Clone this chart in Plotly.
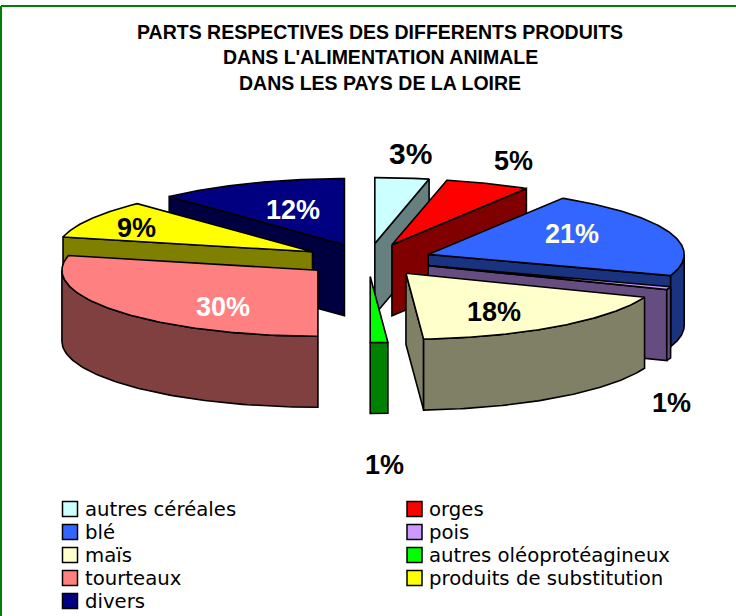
import numpy as np
import plotly.graph_objects as go

# ---- data -------------------------------------------------------------
CATEGORIES = ["autres céréales", "orges", "blé", "pois", "maïs",
              "autres oléoprotéagineux", "tourteaux",
              "produits de substitution", "divers"]
SHARES = [3.4, 5.4, 21.4, 0.7, 18.0, 1.1, 28.6, 9.4, 12.0]
PERCENT_LABELS = ["3%", "5%", "21%", "1%", "18%", "1%", "30%", "9%", "12%"]
TITLE_LINES = ["PARTS RESPECTIVES DES DIFFERENTS PRODUITS",
               "DANS L'ALIMENTATION ANIMALE",
               "DANS LES PAYS DE LA LOIRE"]

# ---- styles / layout ---------------------------------------------------
COLORS = ["#CCFFFF", "#FF0000", "#3366FF", "#CC99FF", "#FFFFCC",
          "#00FF00", "#FF8080", "#FFFF00", "#000080"]
SIDE_COLORS = ["#668080", "#800000", "#1A3380", "#664D80", "#808066",
               "#008000", "#804040", "#808000", "#000040"]
LABEL_COLORS = ["black", "black", "#FFFFE0", "black", "black",
                "black", "white", "black", "white"]
LABEL_X = [410, 513, 572, 671, 494, 384, 223, 136, 293]
LABEL_Y = [153, 161, 234, 403, 312, 465, 307, 228, 210]
LABEL_SIZE = [30, 27, 27, 27, 27, 27, 27, 27, 27]
CX, CY, RX, RY, DEPTH, EXPLODE = 368.0, 260.0, 256.0, 66.0, 71.0, 0.25
DRAW_ORDER = [8, 0, 1, 7, 2, 3, 6, 4, 5]
LEGEND_X = [70, 70, 70, 70, 70, 414.5, 414.5, 414.5, 414.5]
LEGEND_TEXT_X = [85, 85, 85, 85, 85, 429, 429, 429, 429]
LEGEND_ORDER = [0, 2, 4, 6, 8, 1, 3, 5, 7]
LEGEND_Y = [509, 532, 555, 578, 601, 509, 532, 555, 578]
FONT = "Liberation Sans, Arial, sans-serif"
LEGEND_FONT = "DejaVu Sans, Verdana, sans-serif"

total = float(sum(SHARES))
edges = np.concatenate([[0.0], np.cumsum(SHARES)]) / total * 2 * np.pi


def rim(ax, ay, t):
    return ax + RX * np.sin(t), ay - RY * np.cos(t)


fig = go.Figure()


def face(xs, ys, color, name):
    fig.add_trace(go.Scatter(
        x=list(xs), y=list(ys), mode="lines", fill="toself",
        fillcolor=color, line=dict(color="black", width=1.6),
        hoverinfo="skip", showlegend=False, name=name))


for i in DRAW_ORDER:
    t0, t1 = edges[i], edges[i + 1]
    tm = (t0 + t1) / 2
    ax = CX + EXPLODE * RX * np.sin(tm)
    ay = CY - EXPLODE * RY * np.cos(tm)
    name = CATEGORIES[i]
    side = SIDE_COLORS[i]
    # radial walls that face the viewer
    for t, visible in ((t0, np.sin(t0) < -1e-6), (t1, np.sin(t1) > 1e-6)):
        if visible:
            px, py = rim(ax, ay, t)
            face([ax, px, px, ax, ax],
                 [ay, py, py + DEPTH, ay + DEPTH, ay], side, name)
    # outer wall: front half of the ellipse only
    lo, hi = max(t0, np.pi / 2), min(t1, 3 * np.pi / 2)
    if hi > lo:
        t = np.linspace(lo, hi, 80)
        px, py = rim(ax, ay, t)
        face(np.r_[px, px[::-1], px[0]],
             np.r_[py, py[::-1] + DEPTH, py[0]], side, name)
    # top face
    t = np.linspace(t0, t1, 120)
    px, py = rim(ax, ay, t)
    face(np.r_[ax, px, ax], np.r_[ay, py, ay], COLORS[i], name)

annotations = []

# legend, two columns
for row, i in enumerate(LEGEND_ORDER):
    fig.add_trace(go.Scatter(
        x=[LEGEND_X[row]], y=[LEGEND_Y[row]], mode="markers",
        marker=dict(symbol="square", size=15, color=COLORS[i],
                    line=dict(color="black", width=1.5)),
        hoverinfo="skip", showlegend=False, name=CATEGORIES[i]))
    annotations.append(dict(
        x=LEGEND_TEXT_X[row], y=LEGEND_Y[row], xref="x", yref="y",
        text=CATEGORIES[i], showarrow=False, xanchor="left", yanchor="middle",
        xshift=-2,
        font=dict(family=LEGEND_FONT, size=19.7, color="black")))

for i, lab in enumerate(PERCENT_LABELS):
    annotations.append(dict(
        x=LABEL_X[i], y=LABEL_Y[i], xref="x", yref="y", text=f"<b>{lab}</b>",
        showarrow=False, xanchor="center", yanchor="middle",
        font=dict(family=FONT, size=LABEL_SIZE[i], color=LABEL_COLORS[i])))
for y, line in zip([32, 57, 83], TITLE_LINES):
    annotations.append(dict(
        x=380, y=y, xref="x", yref="y", text=f"<b>{line}</b>",
        showarrow=False, xanchor="center", yanchor="middle",
        font=dict(family=FONT, size=19.5, color="black")))

fig.update_layout(
    width=736, height=616, autosize=False,
    margin=dict(l=0, r=0, t=0, b=0, pad=0),
    paper_bgcolor="white", plot_bgcolor="white", showlegend=False,
    annotations=annotations,
    xaxis=dict(range=[0, 736], visible=False, fixedrange=True),
    yaxis=dict(range=[616, 0], visible=False, fixedrange=True),
    shapes=[
        dict(type="line", xref="x", yref="y", x0=1, x1=1, y0=6, y1=616,
             line=dict(color="#008000", width=2)),
        dict(type="line", xref="x", yref="y", x0=1, x1=736, y0=6, y1=6,
             line=dict(color="#008000", width=2)),
    ],
)

fig.write_html("out.html", config={"displayModeBar": False},
               post_script="document.body.style.margin='0';document.documentElement.style.overflow='hidden';")
